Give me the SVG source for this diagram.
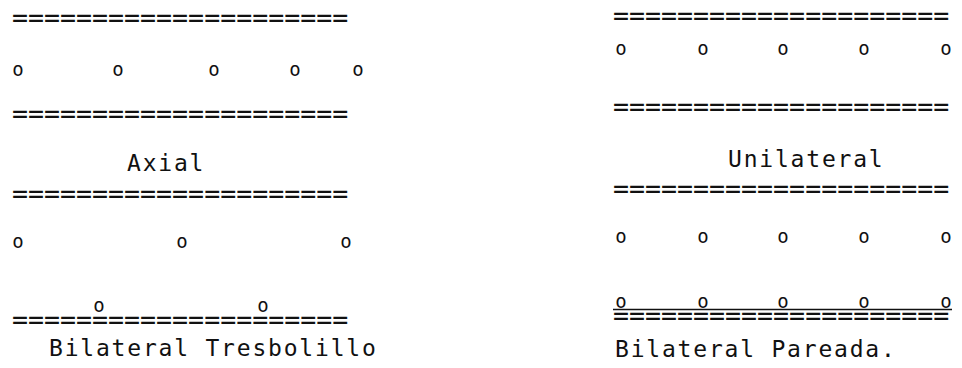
<svg xmlns="http://www.w3.org/2000/svg" width="962" height="368" viewBox="0 0 962 368">
<style>
.eq{font-family:"DejaVu Sans Mono",monospace;font-size:26.6px;fill:#111}
.o{font-family:"DejaVu Sans Mono",monospace;font-size:19px;fill:#111;text-anchor:middle}
.lbl{font-family:"DejaVu Sans Mono",monospace;font-size:23px;fill:#111;letter-spacing:1.8px}
</style>
<rect width="962" height="368" fill="#fff"/>
<g id="axial">
<text class="eq" x="12" y="27">=====================</text>
<text class="o" x="18" y="76">o</text>
<text class="o" x="118" y="76">o</text>
<text class="o" x="214" y="76">o</text>
<text class="o" x="295" y="76">o</text>
<text class="o" x="358" y="76">o</text>
<text class="eq" x="12" y="123">=====================</text>
<text class="lbl" x="127" y="171">Axial</text>
</g>
<g id="tresbolillo">
<text class="eq" x="12" y="203">=====================</text>
<text class="o" x="18" y="248">o</text>
<text class="o" x="182" y="248">o</text>
<text class="o" x="346" y="248">o</text>
<text class="o" x="99" y="312">o</text>
<text class="o" x="263" y="312">o</text>
<text class="eq" x="12" y="329">=====================</text>
<text class="lbl" x="49" y="356">Bilateral Tresbolillo</text>
</g>
<g id="unilateral">
<text class="eq" x="613" y="25">=====================</text>
<text class="o" x="621" y="54.5">o</text>
<text class="o" x="703" y="54.5">o</text>
<text class="o" x="783" y="54.5">o</text>
<text class="o" x="864" y="54.5">o</text>
<text class="o" x="946" y="54.5">o</text>
<text class="eq" x="613" y="116">=====================</text>
<text class="lbl" x="728" y="167">Unilateral</text>
</g>
<g id="pareada">
<text class="eq" x="613" y="198">=====================</text>
<text class="o" x="621" y="243">o</text>
<text class="o" x="703" y="243">o</text>
<text class="o" x="783" y="243">o</text>
<text class="o" x="864" y="243">o</text>
<text class="o" x="946" y="243">o</text>
<text class="o" x="621" y="307.5">o</text>
<text class="o" x="703" y="307.5">o</text>
<text class="o" x="783" y="307.5">o</text>
<text class="o" x="864" y="307.5">o</text>
<text class="o" x="946" y="307.5">o</text>
<line x1="613" y1="309.5" x2="952" y2="309.5" stroke="#111" stroke-width="1.3"/>
<text class="eq" x="613" y="324.5">=====================</text>
<text class="lbl" x="615" y="357">Bilateral Pareada.</text>
</g>
</svg>
